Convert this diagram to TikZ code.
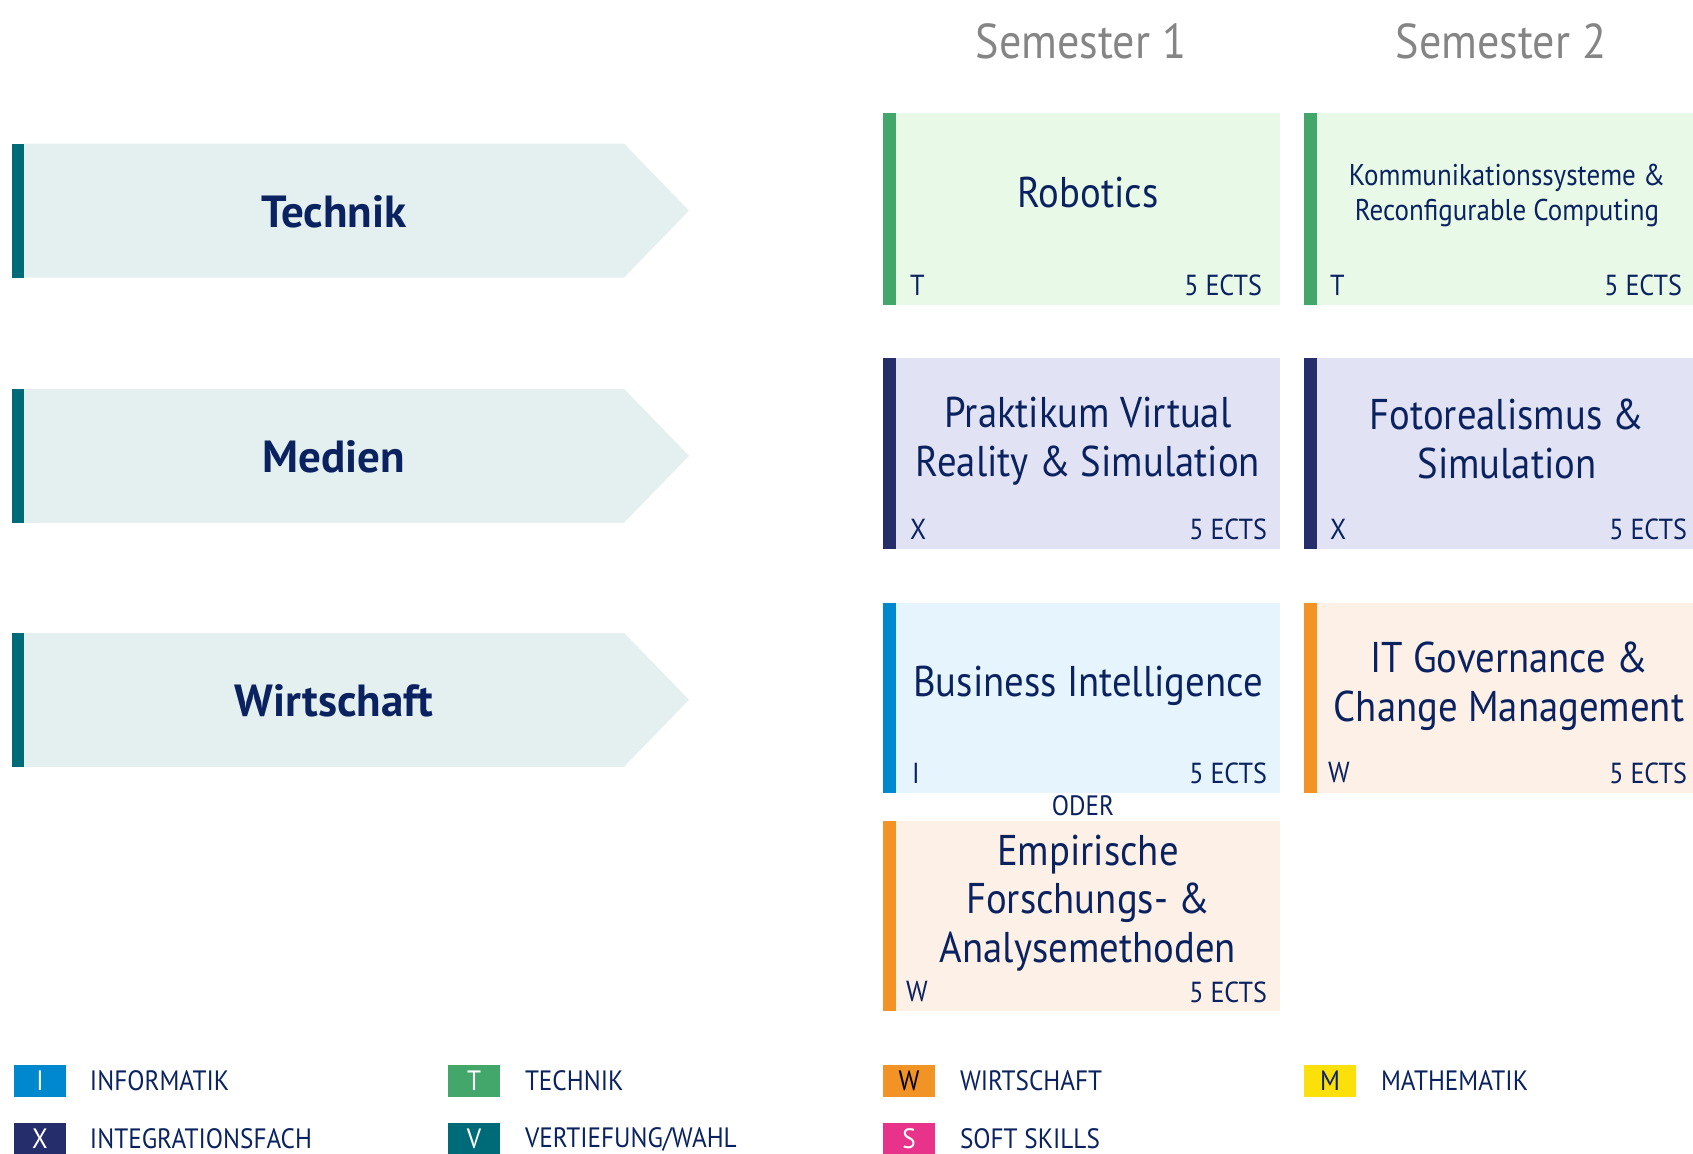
\documentclass[tikz,border=0pt]{standalone}
\usepackage{fontspec}
\setmainfont{PT Sans}[FakeStretch=0.9]
\newfontfamily\arrowfont{PT Sans}
\usetikzlibrary{calc}
\definecolor{navy}{RGB}{10,34,96}
\definecolor{semgray}{RGB}{133,133,133}
\definecolor{greenbar}{RGB}{67,166,106}
\definecolor{greenfill}{RGB}{232,249,232}
\definecolor{navybar}{RGB}{38,45,107}
\definecolor{navyfill}{RGB}{225,226,243}
\definecolor{bluebar}{RGB}{0,136,207}
\definecolor{bluefill}{RGB}{230,244,253}
\definecolor{orangebar}{RGB}{242,147,37}
\definecolor{orangefill}{RGB}{253,240,230}
\definecolor{arrowfill}{RGB}{228,239,240}
\definecolor{tealbar}{RGB}{0,107,120}
\definecolor{yellowbox}{RGB}{252,224,10}
\definecolor{pinkbox}{RGB}{232,51,138}
\newcommand\mycourse[6]{%
  \fill[#6fill] (#2,#3) rectangle (#4,#5);
  \fill[#6bar] (#2,#3) rectangle ($(#2,#5)+(13,0)$);
}
\newcommand\myarrow[3]{%
  \fill[arrowfill] (24,#2) -- (624,#2) -- (689,#2+67) -- (624,#2+134) -- (24,#2+134) -- cycle;
  \fill[tealbar] (12,#2) rectangle (24,#2+134);
  \node[arrowlabel] (#1) at (334,#2+68) {#3};
}
\begin{document}
\begin{tikzpicture}[x=0.5pt,y=-0.5pt,
  every node/.style={text=navy, inner sep=0pt, outer sep=0pt},
  semhead/.style={text=semgray, font=\fontsize{24.5}{28}\selectfont},
  bigtitle/.style={font=\fontsize{21.5}{24.3}\selectfont, align=center},
  smalltitle/.style={font=\fontsize{15}{17.5}\selectfont, align=center},
  tagl/.style={font=\fontsize{14.5}{16}\selectfont, anchor=west},
  tagr/.style={font=\fontsize{14.5}{16}\selectfont, anchor=east},
  arrowlabel/.style={font=\arrowfont\bfseries\fontsize{22.5}{24}\selectfont},
  legbox/.style={minimum width=26pt, minimum height=16pt, anchor=north west, text=white, font=\fontsize{14}{16}\selectfont},
  legtext/.style={font=\fontsize{14}{16}\selectfont, anchor=west},
  oder/.style={font=\fontsize{14}{16}\selectfont}
]
\useasboundingbox (0,0) rectangle (1693,1154);

% Semester headers
\node[semhead] (sem1) at (1081,41) {Semester 1};
\node[semhead] (sem2) at (1501,41) {Semester 2};

% Arrows
\myarrow{technik}{143.6}{Technik}
\myarrow{medien}{388.8}{Medien}
\myarrow{wirtschaft}{632.8}{Wirtschaft}

% Row 1
\mycourse{robotics}{883}{113}{1280}{305}{green}
\node[bigtitle] (robotics) at (1088,193) {Robotics};
\node[tagl] (robT) at (910,285) {T};
\node[tagr] (robE) at (1262,285) {5 ECTS};

\mycourse{komm}{1304}{113}{1693}{305}{green}
\node[smalltitle] (komm) at (1507,196) {Kommunikationssysteme \&\\Reconfigurable Computing};
\node[tagl] (kommT) at (1330,285) {T};
\node[tagr] (kommE) at (1682,285) {5 ECTS};

% Row 2
\mycourse{vr}{883}{358.5}{1280}{549}{navy}
\node[bigtitle] (vr) at (1088,441) {Praktikum Virtual\\Reality \& Simulation};
\node[tagl] (vrT) at (910,529) {X};
\node[tagr] (vrE) at (1267,529) {5 ECTS};

\mycourse{foto}{1304}{358.5}{1693}{549}{navy}
\node[bigtitle] (foto) at (1507,439) {Fotorealismus \&\\Simulation};
\node[tagl] (fotoT) at (1330,529) {X};
\node[tagr] (fotoE) at (1687,529) {5 ECTS};

% Row 3
\mycourse{bi}{883}{603}{1280}{793}{blue}
\node[bigtitle] (bi) at (1088,686) {Business Intelligence};
\node[tagl] (biT) at (912,773) {I};
\node[tagr] (biE) at (1267,773) {5 ECTS};

\mycourse{itg}{1304}{603}{1693}{793}{orange}
\node[bigtitle] (itg) at (1509,686) {IT Governance \&\\Change Management};
\node[tagl] (itgT) at (1328,773) {W};
\node[tagr] (itgE) at (1687,773) {5 ECTS};

\node[oder] (oder) at (1083,806) {ODER};

% Row 4
\mycourse{emp}{883}{821}{1280}{1011}{orange}
\node[bigtitle] (emp) at (1088,903) {Empirische\\Forschungs- \&\\Analysemethoden};
\node[tagl] (empT) at (906,992) {W};
\node[tagr] (empE) at (1267,992) {5 ECTS};

% Legend
\node[legbox, fill=bluebar] (lI) at (14,1065) {I};
\node[legtext] (lIt) at (90,1081) {INFORMATIK};
\node[legbox, fill=greenbar] (lT) at (448,1065) {T};
\node[legtext] (lTt) at (525,1081) {TECHNIK};
\node[legbox, fill=orangebar, text=black] (lW) at (883,1065) {W};
\node[legtext] (lWt) at (960,1081) {WIRTSCHAFT};
\node[legbox, fill=yellowbox, text=navy] (lM) at (1304,1065) {M};
\node[legtext] (lMt) at (1381,1081) {MATHEMATIK};

\node[legbox, fill=navybar] (lX) at (14,1123) {X};
\node[legtext] (lXt) at (90,1139) {INTEGRATIONSFACH};
\node[legbox, fill=tealbar] (lV) at (448,1123) {V};
\node[legtext] (lVt) at (525,1139) {VERTIEFUNG/WAHL};
\node[legbox, fill=pinkbox] (lS) at (883,1123) {S};
\node[legtext] (lSt) at (960,1139) {SOFT SKILLS};
\end{tikzpicture}
\end{document}
